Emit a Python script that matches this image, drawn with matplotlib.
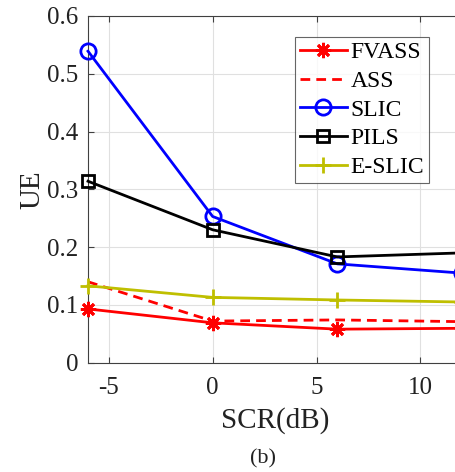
import matplotlib
matplotlib.use("Agg")
import matplotlib.pyplot as plt

SCR = [-6, 0, 6, 12]
FVASS = [0.093, 0.069, 0.058, 0.0595]
ASS = [0.140, 0.072, 0.074, 0.071]
SLIC = [0.539, 0.253, 0.171, 0.155]
PILS = [0.314, 0.230, 0.183, 0.190]
E_SLIC = [0.133, 0.113, 0.1085, 0.105]

XTICKS = [-5, 0, 5, 10]
YTICKS = [0, 0.1, 0.2, 0.3, 0.4, 0.5, 0.6]


def set_style():
    plt.rcParams.update(
        {
            "font.family": "serif",
            "font.serif": ["Liberation Serif", "DejaVu Serif"],
            "font.size": 18,
            "axes.linewidth": 0.8,
        }
    )


def main():
    set_style()
    fig = plt.figure(figsize=(4.56, 4.72), dpi=100)
    ax = fig.add_axes([0.193, 0.2316, 0.820, 0.7346])

    lw = 2.0
    ax.plot(SCR, FVASS, "-", color="#FF0000", lw=lw, marker=(8, 2, 0), ms=11,
            mew=2.0, label="FVASS", clip_on=False, zorder=5)
    ax.plot(SCR, ASS, "--", color="#FF0000", lw=lw, dashes=(3.5, 2.2),
            label="ASS", clip_on=False, zorder=4)
    ax.plot(SCR, SLIC, "-", color="#0000FF", lw=lw, marker="o", ms=11,
            mfc="none", mew=2.0, label="SLIC", clip_on=False, zorder=6)
    ax.plot(SCR, PILS, "-", color="black", lw=lw, marker="s", ms=9,
            mfc="none", mew=2.0, label="PILS", clip_on=False, zorder=6)
    ax.plot(SCR, E_SLIC, "-", color="#BFBF00", lw=lw, marker="+", ms=12,
            mew=2.0, label="E-SLIC", clip_on=False, zorder=5)

    ax.set_xlim(-6, 12)
    ax.set_ylim(0, 0.6)
    ax.set_xticks(XTICKS)
    ax.set_xticklabels(["-5", "0", "5", "10"])
    ax.set_yticks(YTICKS)
    ax.set_yticklabels(["0", "0.1", "0.2", "0.3", "0.4", "0.5", "0.6"])
    ax.tick_params(axis="both", direction="in", top=True, right=True, length=4,
                   color="#404040", labelcolor="#222222")
    ax.tick_params(axis="x", pad=10)
    ax.tick_params(axis="y", pad=7)
    for s in ax.spines.values():
        s.set_color("#404040")
    ax.grid(True, color="#E0E0E0", linewidth=0.8)
    ax.set_axisbelow(True)

    ax.set_xlabel("SCR(dB)", fontsize=21, color="#222222", labelpad=6)
    ax.set_ylabel("UE", fontsize=21, color="#222222", labelpad=1)

    leg = ax.legend(loc="upper left", bbox_to_anchor=(0.553, 0.939),
                    fontsize=17, frameon=True, fancybox=False,
                    handlelength=2.0, handletextpad=0.15, borderpad=0.2,
                    labelspacing=0.3, borderaxespad=0)
    leg.get_frame().set_edgecolor("#404040")
    leg.get_frame().set_linewidth(0.8)

    fig.text(0.577, 0.027, "(b)", ha="center", va="center", fontsize=16,
             color="#222222")

    fig.savefig("out.png", dpi=100)


if __name__ == "__main__":
    main()
